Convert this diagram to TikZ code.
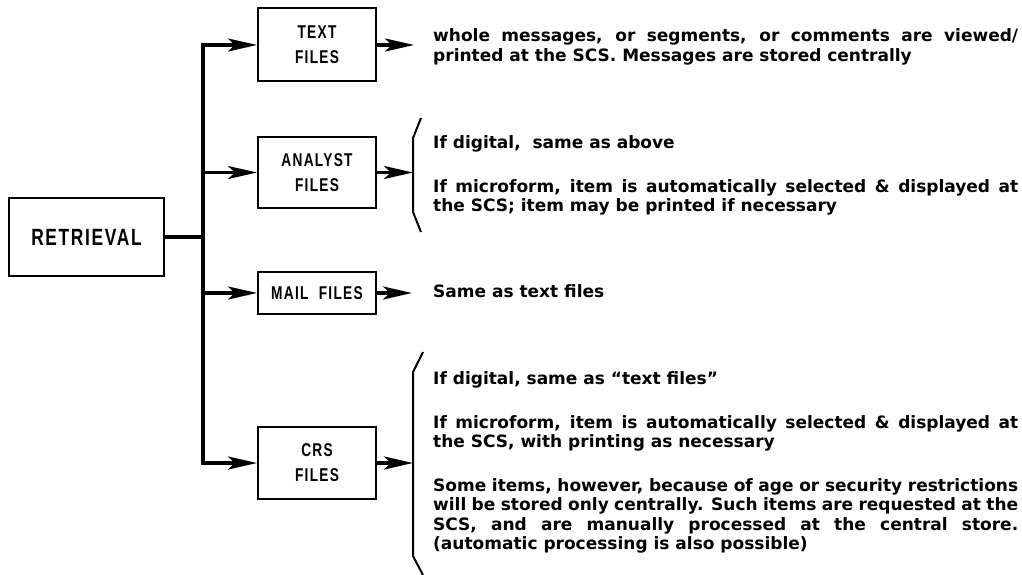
\documentclass[tikz,border=0pt]{standalone}
\usepackage{fontspec}
\usetikzlibrary{arrows.meta}
\newfontfamily\boxfont[FakeStretch=0.74,LetterSpace=7]{Liberation Sans}
\newfontfamily\descfont{DejaVu Sans}

\begin{document}
\begin{tikzpicture}[x=1pt,y=-1pt,
    box/.style={draw,line width=2pt,rectangle,minimum width=118pt,align=center,inner sep=0pt,font={\boxfont\bfseries\fontsize{18.5}{25}\selectfont}},
    desc/.style={font={\descfont\bfseries\fontsize{17}{19.5}\selectfont\tolerance=9999\hyphenpenalty=10000},text width=585pt,align=justify,inner sep=0pt,anchor=base west},
    bus/.style={line width=3.5pt,line cap=rect},
    feed/.style={line width=3.5pt,-{Stealth[length=29pt,width=13pt,inset=7pt]}},
    brace/.style={line width=2pt}
  ]
    \useasboundingbox (0,0) rectangle (1022,575);

    % Retrieval and the bus
    \node[box,minimum width=155pt,minimum height=78pt,font={\boxfont\bfseries\fontsize{23.5}{28}\selectfont}] (ret) at (86.5,237) {RETRIEVAL};
    \coordinate (bus) at (203,0);

    % Files
    \node[box,minimum height=73pt] (txt) at (317,45) {TEXT\\FILES};
    \node[box,minimum height=71pt] (ana) at (317,172.5) {ANALYST\\FILES};
    \node[box,minimum height=42pt] (mail) at (317,293) {MAIL\ \ FILES};
    \node[box,minimum height=72pt] (crs) at (317,463) {CRS\\FILES};

    \draw[bus] (ret.east) -- (ret.east -| bus);
    \draw[bus] (bus |- txt.west) -- (bus |- crs.west);
    \draw[feed] (bus |- txt.west) -- (txt.west);
    \draw[feed] (bus |- ana.west) -- (ana.west);
    \draw[feed] (bus |- mail.west) -- (mail.west);
    \draw[feed] (bus |- crs.west) -- (crs.west);

    % Outputs and braces
    \coordinate (tout) at (414,45);
    \coordinate (abr) at (413,172.5);
    \coordinate (mout) at (412,293);
    \coordinate (cbr) at (413,463);
    \draw[feed] (txt.east) -- (tout);
    \draw[feed] (ana.east) -- (abr);
    \draw[feed] (mail.east) -- (mout);
    \draw[feed] (crs.east) -- (cbr);
    \draw[brace] (421,118) -- (413,138) -- (413,212) -- (421,232);
    \draw[brace] (423,352) -- (413,372) -- (413,556) -- (423,575);

    % Descriptions
    \node[desc] (t1) at (433,42) {whole messages, or segments, or comments are viewed/\linebreak printed at the SCS. Messages are stored centrally};
    \node[desc] (a1) at (433,148) {If digital,\ \ same as above};
    \node[desc] (a2) at (433,192) {If microform, item is automatically selected \& displayed at\linebreak the SCS; item may be printed if necessary};
    \node[desc] (m1) at (433,297) {Same as text files};
    \node[desc] (c1) at (433,384) {If digital, same as “text files”};
    \node[desc] (c2) at (433,428) {If microform, item is automatically selected \& displayed at\linebreak the SCS, with printing as necessary};
    \node[desc] (c3) at (433,491) {Some items, however, because of age or security restrictions\linebreak will be stored only centrally. Such items are requested at the\linebreak SCS, and are manually processed at the central store.\linebreak (automatic processing is also possible)};
\end{tikzpicture}
\end{document}
